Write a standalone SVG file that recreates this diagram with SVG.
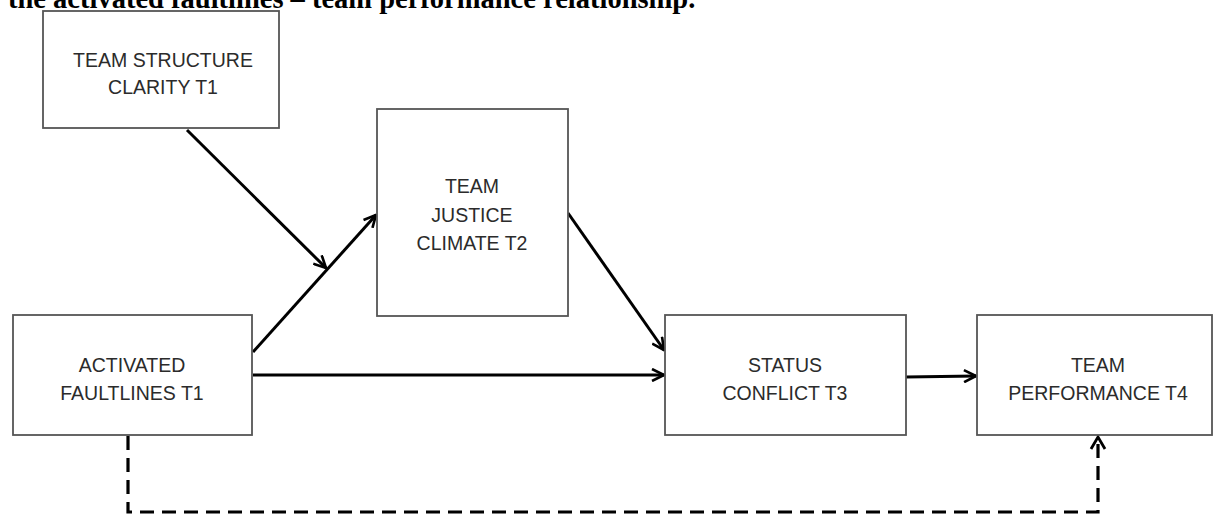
<svg xmlns="http://www.w3.org/2000/svg" width="1215" height="521" viewBox="0 0 1215 521">
<style>
.box{fill:#fff;stroke:#555;stroke-width:1.8}
.lbl{font-family:"Liberation Sans",Arial,sans-serif;font-size:19.5px;fill:#2b2b2b;text-anchor:middle}
.title{font-family:"Liberation Serif","Times New Roman",serif;font-size:28.5px;font-weight:bold;fill:#000}
.con{fill:none;stroke:#000;stroke-width:3}
.dash{fill:none;stroke:#000;stroke-width:3.2;stroke-dasharray:14 8}
</style>
<defs>
<marker id="ah" viewBox="0 0 14 14" refX="13" refY="7" markerWidth="14" markerHeight="14" markerUnits="userSpaceOnUse" orient="auto">
<path d="M1,1 L13,7 L1,13" fill="none" stroke="#000" stroke-width="2.6"/>
</marker>
</defs>
<rect width="1215" height="521" fill="#fff"/>
<g id="connectors">
<line class="con" x1="187" y1="130" x2="326" y2="268" marker-end="url(#ah)"/>
<line class="con" x1="253" y1="352" x2="376" y2="215" marker-end="url(#ah)"/>
<line class="con" x1="568" y1="213" x2="664" y2="350" marker-end="url(#ah)"/>
<line class="con" x1="253" y1="375" x2="664" y2="375" marker-end="url(#ah)"/>
<line class="con" x1="906" y1="377" x2="976" y2="376" marker-end="url(#ah)"/>
<path class="dash" d="M128,436 L128,512 L1098,512 L1098,437"/>
<path d="M1091,449 L1098,437 L1105,449" fill="none" stroke="#000" stroke-width="2.8"/>
</g>
<g id="structure">
<rect class="box" x="43" y="11" width="236" height="117"/>
<text class="lbl" x="163" y="67">TEAM STRUCTURE</text>
<text class="lbl" x="163" y="94">CLARITY T1</text>
</g>
<g id="justice">
<rect class="box" x="377" y="109" width="191" height="207"/>
<text class="lbl" x="472" y="193">TEAM</text>
<text class="lbl" x="472" y="222">JUSTICE</text>
<text class="lbl" x="472" y="250">CLIMATE T2</text>
</g>
<g id="faultlines">
<rect class="box" x="13" y="315" width="239" height="120"/>
<text class="lbl" x="132" y="372">ACTIVATED</text>
<text class="lbl" x="132" y="400">FAULTLINES T1</text>
</g>
<g id="status">
<rect class="box" x="665" y="315" width="241" height="120"/>
<text class="lbl" x="785" y="372">STATUS</text>
<text class="lbl" x="785" y="400">CONFLICT T3</text>
</g>
<g id="performance">
<rect class="box" x="977" y="315" width="235" height="120"/>
<text class="lbl" x="1098" y="372">TEAM</text>
<text class="lbl" x="1098" y="400">PERFORMANCE T4</text>
</g>
<text class="title" x="8" y="8">the activated faultlines – team performance relationship.</text>
</svg>
